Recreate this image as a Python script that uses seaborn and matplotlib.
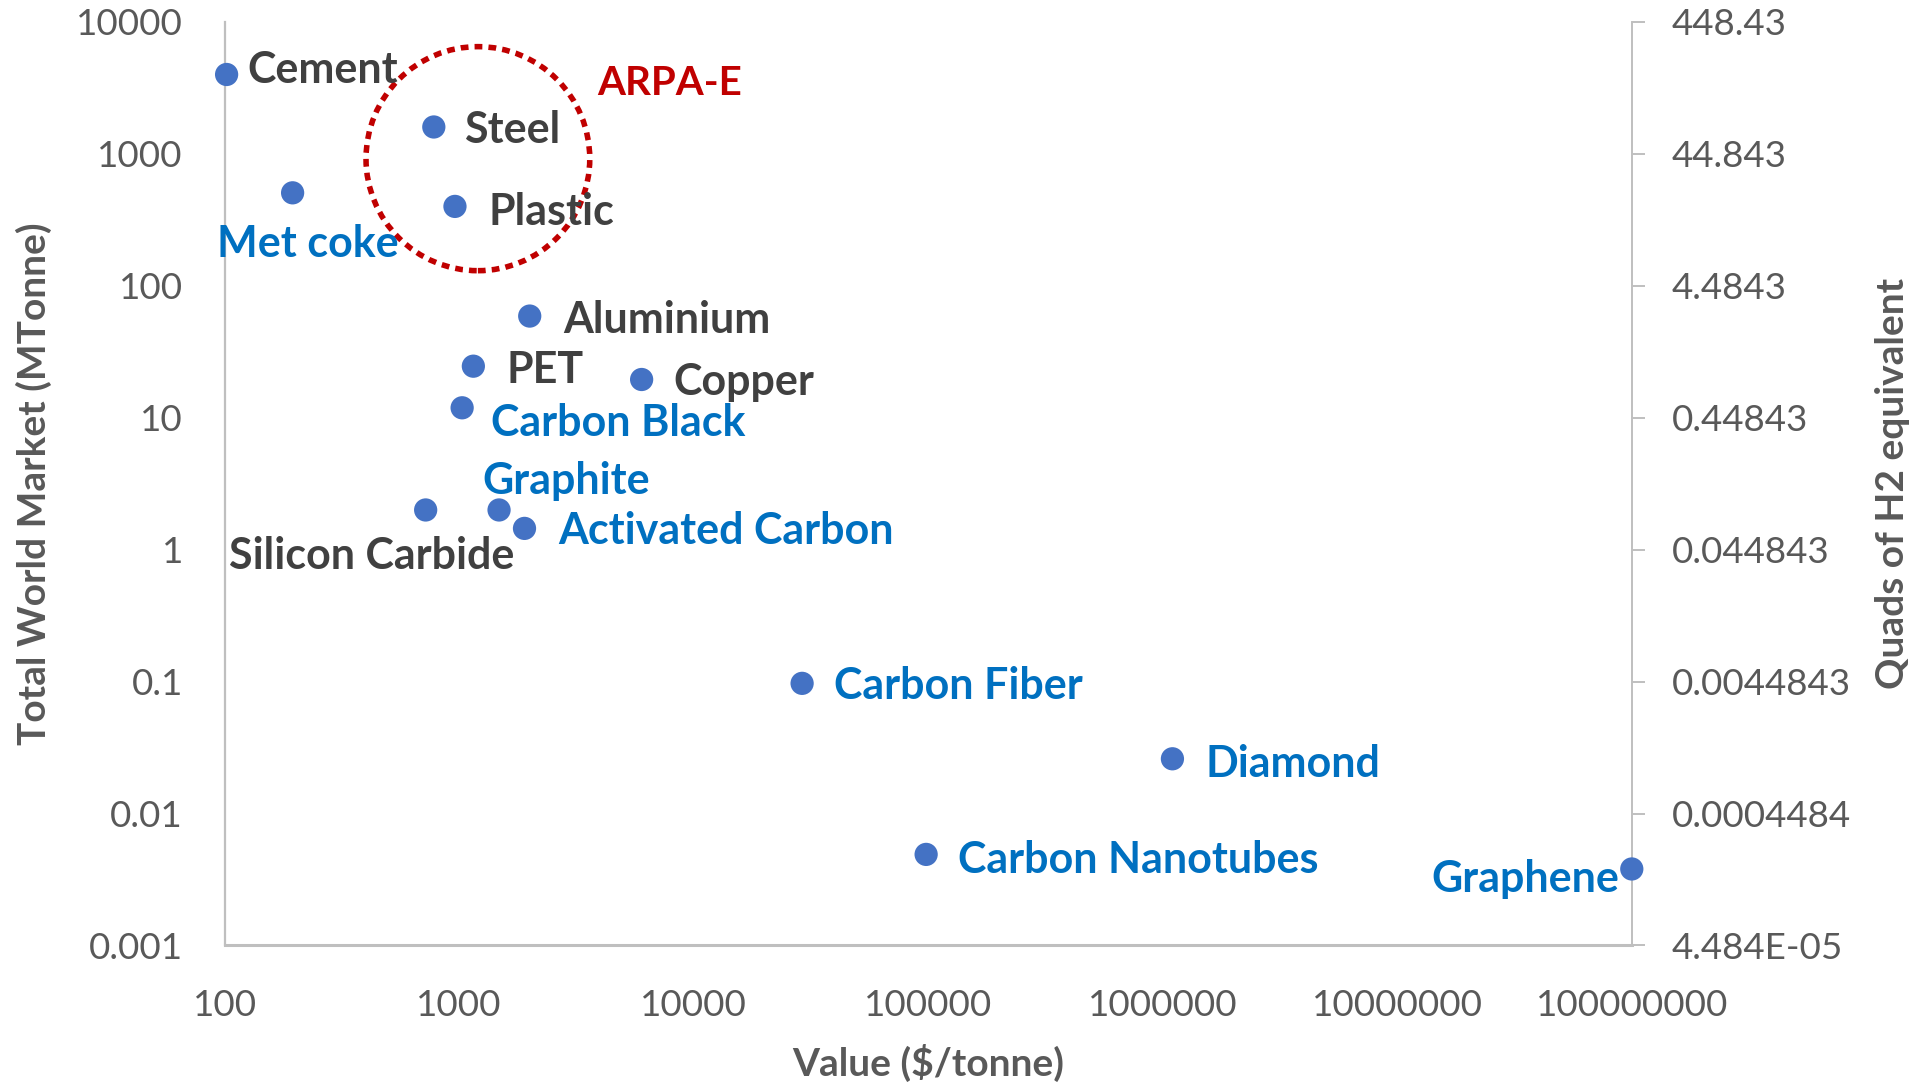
import matplotlib
matplotlib.use("Agg")
import matplotlib.pyplot as plt
import seaborn as sns
import pandas as pd
from matplotlib.patches import Ellipse
from matplotlib.ticker import FixedLocator, FixedFormatter, NullLocator

# Materials: price per tonne vs. total world market
materials = ["Cement", "Steel", "Met coke", "Plastic", "Aluminium", "PET", "Copper",
             "Carbon Black", "Silicon Carbide", "Graphite", "Activated Carbon",
             "Carbon Fiber", "Diamond", "Carbon Nanotubes", "Graphene"]
value_usd_per_tonne = [102, 780, 195, 960, 2000, 1150, 6000,
                       1030, 720, 1480, 1900,
                       29000, 1.1e6, 98000, 1.0e8]
market_mtonne = [4000, 1600, 507, 400, 59, 24.6, 19.5,
                 11.9, 2.0, 2.0, 1.45,
                 0.097, 0.026, 0.0049, 0.0038]
carbon_products = ["Met coke", "Carbon Black", "Graphite", "Activated Carbon",
                   "Carbon Fiber", "Diamond", "Carbon Nanotubes", "Graphene"]

x_ticks = [1e2, 1e3, 1e4, 1e5, 1e6, 1e7, 1e8]
x_tick_labels = ["100", "1000", "10000", "100000", "1000000", "10000000", "100000000"]
y_ticks = [1e-3, 1e-2, 1e-1, 1, 10, 100, 1000, 10000]
y_tick_labels = ["0.001", "0.01", "0.1", "1", "10", "100", "1000", "10000"]
h2_tick_labels = ["4.484E-05", "0.0004484", "0.0044843", "0.044843",
                  "0.44843", "4.4843", "44.843", "448.43"]

df = pd.DataFrame({"material": materials, "value": value_usd_per_tonne,
                   "market": market_mtonne})

sns.set_style("white")
plt.rcParams["font.family"] = ["Lato", "DejaVu Sans"]

DOT = "#4472C4"
DARK = "#404040"
BLUE = "#0070C0"
RED = "#C00000"
GRID = "#BFBFBF"
TICK = "#595959"

fig = plt.figure(figsize=(19.13, 10.83), dpi=100)
ax = fig.add_axes([0.1174, 0.127, 0.7356, 0.8527])

sns.scatterplot(data=df, x="value", y="market", ax=ax, s=280, color=DOT,
                edgecolor="none", zorder=3, clip_on=False, legend=False)
ax.set_xscale("log")
ax.set_yscale("log")
ax.set_xlim(1e2, 1e8)
ax.set_ylim(1e-3, 1e4)

ax.xaxis.set_major_locator(FixedLocator(x_ticks))
ax.xaxis.set_major_formatter(FixedFormatter(x_tick_labels))
ax.xaxis.set_minor_locator(NullLocator())
ax.yaxis.set_major_locator(FixedLocator(y_ticks))
ax.yaxis.set_major_formatter(FixedFormatter(y_tick_labels))
ax.yaxis.set_minor_locator(NullLocator())
ax.tick_params(axis="x", length=0, pad=31, labelsize=26.5, labelcolor=TICK)
ax.tick_params(axis="y", length=0, pad=30, labelsize=26.5, labelcolor=TICK)

for side in ["top", "right"]:
    ax.spines[side].set_visible(False)
ax.spines["left"].set_color(GRID)
ax.spines["left"].set_linewidth(1.6)
ax.spines["bottom"].set_color(GRID)
ax.spines["bottom"].set_linewidth(2.2)

ax.set_xlabel("Value ($/tonne)", fontsize=28, fontweight="bold", color=TICK, labelpad=16)
ax.set_ylabel("Total World Market (MTonne)", fontsize=28, fontweight="bold", color=TICK, labelpad=17)

# Secondary axis: hydrogen-equivalent energy
ax2 = ax.twinx()
ax2.set_yscale("log")
ax2.set_ylim(ax.get_ylim())
ax2.yaxis.set_major_locator(FixedLocator(y_ticks))
ax2.yaxis.set_major_formatter(FixedFormatter(h2_tick_labels))
ax2.yaxis.set_minor_locator(NullLocator())
ax2.tick_params(axis="y", length=9, width=1.4, color=GRID, pad=20,
                labelsize=26.5, labelcolor=TICK)
for side in ["top", "left", "bottom"]:
    ax2.spines[side].set_visible(False)
ax2.spines["right"].set_color(GRID)
ax2.spines["right"].set_linewidth(1.4)
ax2.set_ylabel("Quads of H2 equivalent", fontsize=28, fontweight="bold",
               color=TICK, labelpad=17)
ax2.set_zorder(ax.get_zorder() - 1)
ax.patch.set_visible(False)

# Label placement (offsets in points from each marker)
label_layout = {
    "Cement": (15, 3, "left"),
    "Steel": (22, -2, "left"),
    "Plastic": (24, -4, "left"),
    "Met coke": (11, -37, "center"),
    "Aluminium": (24, -3, "left"),
    "PET": (24, -3, "left"),
    "Copper": (23, -2, "left"),
    "Carbon Black": (21, -11, "left"),
    "Graphite": (-12, 21, "left"),
    "Silicon Carbide": (-39, -33, "center"),
    "Activated Carbon": (24, -2, "left"),
    "Carbon Fiber": (23, -2, "left"),
    "Diamond": (24, -4, "left"),
    "Carbon Nanotubes": (23, -4, "left"),
    "Graphene": (-9, -7, "right"),
}
for name, xv, yv in zip(materials, value_usd_per_tonne, market_mtonne):
    dx, dy, ha = label_layout[name]
    ax.annotate(name, (xv, yv), xytext=(dx, dy), textcoords="offset points",
                ha=ha, va="center", fontsize=31, fontweight="bold",
                color=BLUE if name in carbon_products else DARK, zorder=4)

# Highlighted region around the bulk commodities
ax.add_patch(Ellipse((0.180, 0.852), 0.159, 0.2426, transform=ax.transAxes,
                     fill=False, edgecolor=RED, linewidth=4,
                     linestyle=(0, (1.4, 1.1)), zorder=2))
ax.text(0.2647, 0.933, "ARPA-E", transform=ax.transAxes, ha="left", va="center",
        fontsize=29, fontweight="bold", color=RED)

fig.savefig("out.png", dpi=100)
